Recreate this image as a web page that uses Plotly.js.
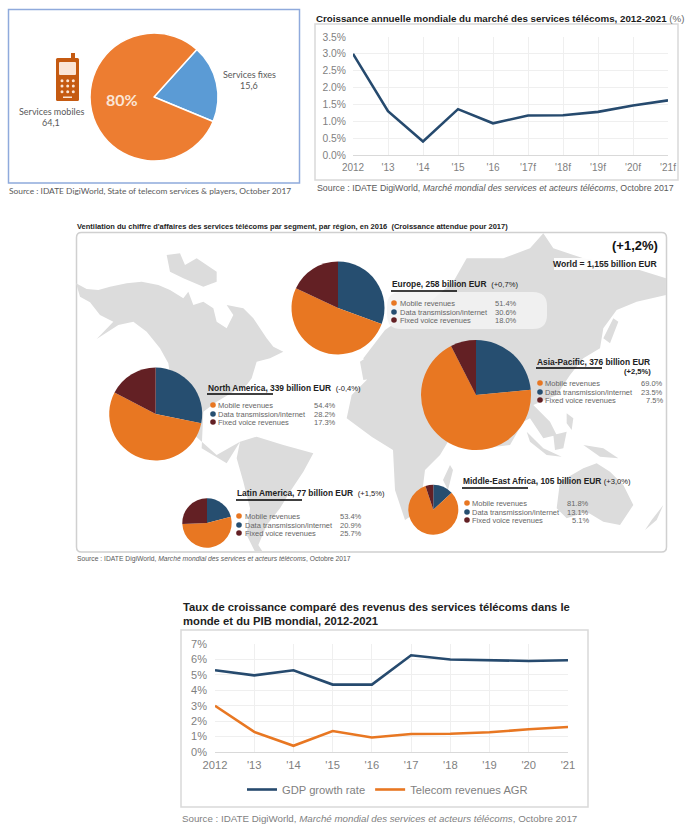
<!DOCTYPE html>
<html><head><meta charset="utf-8">
<script src="https://cdn.plot.ly/plotly-3.0.1.min.js"></script>
<style>html,body{margin:0;padding:0;background:#fff}#c{width:697px;height:839px}</style></head>
<body><div id="c"></div>
<script>
// ---------- data ----------
const serviceLabels = ['Services fixes','Services mobiles'];
const serviceValues = [15.6,64.1];
const yearsA = ['2012',"'13","'14","'15","'16","'17f","'18f","'19f","'20f","'21f"];
const yearsB = ['2012',"'13","'14","'15","'16","'17","'18","'19","'20","'21"];
const telecomGrowth = [3.0,1.3,0.4,1.36,0.94,1.17,1.18,1.28,1.47,1.62];
const gdpGrowth = [5.3,4.97,5.3,4.37,4.37,6.27,6.0,5.97,5.9,5.95];
const segments = ['Data transmission/internet','Mobile revenues','Fixed voice revenues'];
const europe = [30.6,51.4,18.0];
const northAmerica = [28.2,54.4,17.3];
const latinAmerica = [20.9,53.4,25.7];
const asiaPacific = [23.5,69.0,7.5];
const middleEastAfrica = [13.1,81.8,5.1];
// ---------- map outlines (backdrop, crop coordinates) ----------
const landLeft = [
 [[18,205],[50,222],[85,225],[120,215],[170,205],[215,200],[265,210],[300,225],[340,250],[355,230],[370,270],[400,260],[430,280],[440,320],[470,340],[490,300],[470,270],[520,280],[550,310],[590,370],[610,395],[640,410],[600,430],[560,440],[545,490],[530,510],[490,530],[440,560],[400,590],[395,700],[470,745],[510,680],[440,720],[350,640],[300,480],[295,445],[270,400],[230,350],[190,320],[145,330],[80,372],[130,320],[90,300],[60,262],[30,245]],
 [[290,120],[330,115],[345,150],[380,130],[440,170],[440,200],[400,215],[340,190],[300,170]],
 [[510,680],[560,665],[640,690],[730,715],[700,770],[660,830],[630,880],[590,930],[565,990],[578,1010],[555,1010],[530,960],[540,880],[520,800],[500,730]],
 [[870,440],[900,420],[925,445],[915,490],[880,495]]
];
const landRight = [
 [[-70,610],[-55,540],[5,480],[75,470],[150,525],[210,530],[255,645],[210,720],[165,765],[150,885],[105,915],[75,825],[69,705],[6,666]],
 [[219,795],[240,750],[249,765],[234,825]],
 [[-20,430],[45,345],[110,300],[180,260],[250,200],[290,130],[340,130],[400,130],[480,100],[520,55],[550,100],[640,130],[760,150],[888,190],[888,240],[800,260],[740,285],[700,340],[690,400],[640,430],[600,480],[560,540],[490,570],[540,620],[560,660],[520,670],[480,610],[460,620],[420,690],[340,700],[250,680],[180,620],[100,510],[0,490]],
 [[700,370],[730,310],[745,320],[720,385]],
 [[470,650],[520,700],[575,725],[530,720],[480,680]],
 [[550,660],[590,650],[580,700],[555,705]],
 [[590,595],[610,610],[605,645],[590,625]],
 [[640,690],[700,700],[745,730],[690,725]],
 [[570,800],[640,760],[680,745],[720,770],[760,810],[790,870],[750,930],[700,920],[650,890],[590,910],[560,880]],
 [[880,870],[860,915],[825,945],[845,915]]
];
// ---------- helpers ----------
const W=697,H=839;
const landX=[],landY=[];
landLeft.forEach(p=>{p.forEach(q=>{landX.push(q[0]/3+70);landY.push(q[1]/3+215)});landX.push(null);landY.push(null)});
landRight.forEach(p=>{p.forEach(q=>{landX.push(q[0]/3+370);landY.push(q[1]/3+215)});landX.push(null);landY.push(null)});
const ORANGE='#e87722',NAVY='#264e70',MAROON='#632024';
const SANS='"Liberation Sans",Arial,sans-serif', HUM='Lato,"Open Sans",sans-serif';
const shapes=[],annotations=[];
const px=o=>Object.assign({xref:'x',yref:'y'},o);
function txt(x,y,text,size,color,anchor,font){annotations.push(px({x,y,text,showarrow:false,xanchor:anchor||'left',yanchor:'middle',borderpad:0,font:{family:font||SANS,size,color}}))}
function rect(x0,y0,x1,y1,o){shapes.push(px(Object.assign({type:'rect',x0,y0,x1,y1,line:{width:0}},o)))}
function rr(x0,y0,x1,y1,r,o){shapes.push(px(Object.assign({type:'path',path:`M${x0+r},${y0}L${x1-r},${y0}Q${x1},${y0} ${x1},${y0+r}L${x1},${y1-r}Q${x1},${y1} ${x1-r},${y1}L${x0+r},${y1}Q${x0},${y1} ${x0},${y1-r}L${x0},${y0+r}Q${x0},${y0} ${x0+r},${y0}Z`},o)))}
function dot(x,y,r,c,layer){shapes.push(px({type:'circle',x0:x-r,x1:x+r,y0:y-r,y1:y+r,fillcolor:c,line:{width:0},layer:layer||'above'}))}
function pie(values,cx,cy,r){return {type:'pie',values,labels:segments,sort:false,direction:'clockwise',rotation:0,textinfo:'none',hoverinfo:'label+percent',showlegend:false,
 marker:{colors:[NAVY,ORANGE,MAROON],line:{width:0}},domain:{x:[(cx-r)/W,(cx+r)/W],y:[1-(cy+r)/H,1-(cy-r)/H]}}}
function block(head,hx,hy,lineY,rows,dotX,textX,pctX,vals){
 txt(hx,hy,head,8.4,'#222');
 rect(hx,lineY-0.7,hx+66,lineY+0.7,{fillcolor:'#000',layer:'above'});
 const order=[1,0,2],cols=[ORANGE,NAVY,MAROON];
 order.forEach((k,i)=>{dot(dotX,rows[i],2.8,cols[i]);txt(textX,rows[i],segments[k],7.5,'#666');txt(pctX,rows[i],vals[k].toFixed(1)+'%',7.5,'#666','right')});
}
// ---------- top left box ----------
rect(8.5,9.5,299.5,183,{fillcolor:'#fff',line:{color:'#8faadc',width:1.5},layer:'below'});
txt(51,111,'Services mobiles',9,'#595959','center',HUM);
txt(51,122,'64,1',9,'#595959','center',HUM);
txt(249,74,'Services fixes',9,'#595959','center',HUM);
txt(249,85,'15,6',9,'#595959','center',HUM);
txt(122,99,'<b>80%</b>',16,'#fbe5d6','center',HUM);
txt(8,191,'Source : IDATE DigiWorld, State of telecom services &amp; players, October 2017',8.4,'#595959','left',HUM);
// phone icon
rr(56,58,79,101,1.5,{fillcolor:'#c55a11',line:{width:0},layer:'above'});
rect(71,53,75,59,{fillcolor:'#c55a11',layer:'above'});
rr(59,62,76,75,1,{fillcolor:'#fbe5d6',line:{width:0},layer:'above'});
[62,67.7,73.3].forEach(x=>[80.7,86,91.7].forEach(y=>dot(x,y,1.5,'#fbe5d6')));
rect(63,96.5,72,98,{fillcolor:'#fbe5d6',layer:'above'});
// ---------- top right ----------
rect(315,24,678,180,{fillcolor:'#fff',line:{color:'#d9d9d9',width:1.5},layer:'below'});
txt(315,18,'<b>Croissance annuelle mondiale du marché des services télécoms, 2012-2021</b> <span style="color:#666">(%)</span>',9.75,'#1a1a1a');
txt(316,188,'Source : IDATE DigiWorld, <i>Marché mondial des services et acteurs télécoms</i>, Octobre 2017',8.8,'#595959');
// ---------- map panel ----------
rr(76.5,232.5,666.5,552,5,{fillcolor:'#fff',line:{color:'#d0d0d0',width:1.5},layer:'below'});
txt(76,226,"<b>Ventilation du chiffre d'affaires des services télécoms par segment, par région, en 2016  (Croissance attendue pour 2017)</b>",7.5,'#222');
txt(76,559,'Source : IDATE DigiWorld, <i>Marché mondial des services et acteurs télécoms</i>, Octobre 2017',6.75,'#595959');
rr(387,292,547,329,14,{fillcolor:'rgba(242,242,242,0.88)',line:{width:0},layer:'above'});
rect(554,258,661,270,{fillcolor:'rgba(255,255,255,0.9)',layer:'above'});
annotations.push(px({x:660,y:245,text:'<b>(+1,2%)</b>',showarrow:false,xanchor:'right',yanchor:'middle',font:{family:SANS,size:13,color:'#111'}}));
txt(658,263.5,'<b>World = 1,155 billion EUR</b>',8.6,'#222','right');
block('<b>Europe, 258 billion EUR</b>  <span style="font-size:7.6px">(+0,7%)</span>',391,284,291,[303,312,320],394,399,518,europe);
block('<b>North America, 339 billion EUR</b>  <span style="font-size:7.6px">(-0,4%)</span>',207,388,394,[405,414,422],213,217,337,northAmerica);
block('<b>Latin America, 77 billion EUR</b>  <span style="font-size:7.6px">(+1,5%)</span>',236,493,500,[516,525,533],239,244,363,latinAmerica);
block('<b>Asia-Pacific, 376 billion EUR</b>',536,362,368,[383,392,400],540,544,664,asiaPacific);
txt(652,371,'<b>(+2,5%)</b>',7.6,'#222','right');
block('<b>Middle-East Africa, 105 billion EUR</b> <span style="font-size:7.6px">(+3,0%)</span>',462,481,488,[503,512,520],467,471,590,middleEastAfrica);
// ---------- bottom chart ----------
rect(181,630,588,807,{fillcolor:'#fff',line:{color:'#d9d9d9',width:1.5},layer:'below'});
txt(182,607,'<b>Taux de croissance comparé des revenus des services télécoms dans le</b>',11.25,'#222');
txt(182,621,'<b>monde et du PIB mondial, 2012-2021</b>',11.25,'#222');
txt(181,818,'Source : IDATE DigiWorld, <i>Marché mondial des services et acteurs télécoms</i>, Octobre 2017',9.75,'#7f7f7f');
// ---------- traces ----------
const traces=[
 {type:'scatter',x:landX,y:landY,xaxis:'x',yaxis:'y',mode:'lines',fill:'toself',fillcolor:'#dcdcdc',line:{width:0},hoverinfo:'skip',showlegend:false},
 {type:'pie',values:serviceValues,labels:serviceLabels,sort:false,direction:'clockwise',rotation:42,textinfo:'none',showlegend:false,
  marker:{colors:['#5b9bd5','#ed7d31'],line:{color:'#fff',width:1.5}},domain:{x:[90/W,218/W],y:[1-161/H,1-33/H]}},
 pie(europe,338,308,46.5),pie(northAmerica,155.7,414,46.5),pie(latinAmerica,207,523,24.7),pie(asiaPacific,476,395,55),pie(middleEastAfrica,433.3,509.7,25),
 {type:'scatter',mode:'lines',x:yearsA,y:telecomGrowth,xaxis:'x2',yaxis:'y2',line:{color:'#264a6e',width:2.6},cliponaxis:false,showlegend:false},
 {type:'scatter',mode:'lines',name:'GDP growth rate',x:yearsB,y:gdpGrowth,xaxis:'x3',yaxis:'y3',line:{color:'#264a6e',width:2.6},cliponaxis:false},
 {type:'scatter',mode:'lines',name:'Telecom revenues AGR',x:yearsB,y:telecomGrowth,xaxis:'x3',yaxis:'y3',line:{color:'#e87722',width:2.6},cliponaxis:false}
];
const tickFont=s=>({family:SANS,size:s,color:'#7f7f7f'});
const axisX=(d,anchor,cats,s,off)=>({domain:d,anchor,type:'category',categoryorder:'array',categoryarray:cats,range:[0,9],showgrid:true,gridcolor:'#efefef',showline:true,linecolor:'#d9d9d9',ticks:'',tickfont:tickFont(s),ticklabelstandoff:off,tickangle:0,zeroline:false,fixedrange:true});
const axisY=(d,anchor,r,dt,fmt,s,off)=>({domain:d,anchor,range:r,dtick:dt,tick0:0,tickformat:fmt,ticksuffix:'%',showgrid:true,gridcolor:'#efefef',showline:false,ticks:'',tickfont:tickFont(s),ticklabelstandoff:off,zeroline:false,fixedrange:true});
const layout={width:W,height:H,autosize:false,margin:{l:0,r:0,t:0,b:0},paper_bgcolor:'#fff',plot_bgcolor:'rgba(0,0,0,0)',font:{family:SANS},
 xaxis:{domain:[0,1],anchor:'y',range:[0,W],visible:false,fixedrange:true},
 yaxis:{domain:[0,1],anchor:'x',range:[H,0],visible:false,fixedrange:true},
 xaxis2:axisX([353/W,668/W],'y2',yearsA,10,3),
 yaxis2:axisY([1-155/H,1-37/H],'x2',[0,3.5],0.5,'.1f',10.3,6),
 xaxis3:axisX([215/W,568/W],'y3',yearsB,11.2,3),
 yaxis3:axisY([1-752/H,1-644/H],'x3',[0,7],1,'d',11,7),
 showlegend:true,
 legend:{orientation:'h',x:242/W,y:1-775/H,xanchor:'left',yanchor:'top',bgcolor:'rgba(0,0,0,0)',font:{family:SANS,size:11.2,color:'#7f7f7f'},itemwidth:30,tracegroupgap:0},
 shapes,annotations};
Plotly.newPlot('c',traces,layout,{staticPlot:true,displayModeBar:false});
</script></body></html>
